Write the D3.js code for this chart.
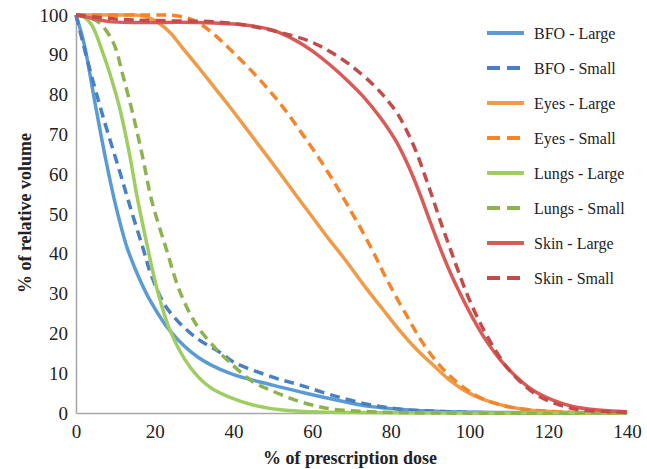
<!DOCTYPE html>
<html lang="en">
    <head>
        <meta charset="utf-8">
        <title>Dose volume histogram</title>
        <script type="text/javascript" src="https://d3js.org/d3.v7.min.js"></script>
        <style type="text/css">
          body { margin: 0; background: #fff; }
          text { font-family: "Liberation Serif", "Times New Roman", serif; fill: #222; }
          .axis path { stroke: #a9a9a9; stroke-width: 1.6; }
        </style>
    </head>
    <body>
        <script type="text/javascript">
        // series: [dose %, relative volume %]
        var bfoLarge = [[0,100],[2,93],[5,77],[7.5,64],[10,52.5],[13,41.5],[16,34],[19,28],[24,20.5],[31,14],[39,10],[50,7],[57,5.3],[65,3.5],[75,1.6],[90,0.5],[110,0.1],[140,0]];
        var bfoSmall = [[0,100],[1,96],[3.6,86],[7,74],[11,61],[14,51],[17,41.5],[19,35],[23,26.5],[30,19.3],[37,15],[40,12.8],[50,9],[57,7],[65,4.5],[74,2.2],[82,1],[95,0.3],[115,0],[140,0]];
        var eyesLarge = [[0,100],[10,100],[15,100],[18,99.5],[21,98],[24,95.5],[27,91.8],[31,87],[35,82],[39,77],[43.4,71.3],[47.6,65.8],[52,60],[56,54.6],[60,49.3],[64,44],[68,39],[74,31],[78,26],[82,21],[86.5,16],[91,11.8],[95,8.2],[99,5.5],[103,3.6],[107,2.3],[112,1.2],[118,0.5],[125,0.2],[140,0]];
        var eyesSmall = [[0,100],[15,100],[22,100],[25.5,99.8],[28.5,99.2],[31.5,97.8],[35,95.2],[39,91.5],[43,87.6],[47,83.4],[50,80],[53,76.3],[56,72.2],[59.5,67.3],[62.8,62.4],[66,57.3],[69,52.2],[72,47],[75.5,40.5],[79,33.5],[84,24.5],[89,16.3],[95,9.3],[102,4.2],[108,2],[115,0.8],[125,0.2],[140,0]];
        var lungsLarge = [[0,100],[2,99.5],[4,97.5],[7,90],[9,84],[11,77],[13.7,64.5],[15.4,55],[18,42.5],[20.5,31.5],[24,20.5],[29,11.5],[34,6.5],[39,4],[45,2],[52,0.8],[60,0.3],[70,0.1],[110,0],[140,0]];
        var lungsSmall = [[0,100],[3,99.5],[6,98],[9.5,93],[12,84.5],[14.6,74.5],[17,64],[19.2,53.5],[23,41],[26.4,30.5],[30.7,22],[35.7,16],[39,12.8],[45,7.8],[50,5.5],[55,3.5],[60,2],[65,1],[75,0.3],[90,0],[140,0]];
        var skinLarge = [[0,100],[4,99.2],[8,98.4],[15,98.1],[26,98.2],[35,98],[43,97.5],[50,96.2],[56,93.5],[60,91],[64.5,87.5],[69,83.5],[73,79.5],[77.5,74],[81.5,68],[84.5,62],[87.4,55],[90,48],[92.5,41.5],[95,35.5],[97.6,30],[101,23.5],[104,18.5],[107.7,13.5],[112,9],[116,5.8],[121,3.3],[126,1.7],[132,0.8],[140,0.3]];
        var skinSmall = [[0,100],[10,99],[20,98.6],[35,98.3],[42,97.6],[47.6,96.6],[53,95.3],[58.6,93.7],[62,92.2],[65.4,90.3],[70,87.2],[75.5,82.5],[78.5,79.3],[81.5,75.5],[84,71],[86.5,65.5],[88.7,59.5],[90.8,53.5],[93,47],[95,41.5],[97,36],[99.3,30],[102,24],[105.5,17.5],[109.4,11.6],[113.5,7.3],[118,4],[123,2],[128,0.8],[134,0.4],[140,0.2]];

        var seriesNames = ["BFO - Large", "BFO - Small", "Eyes - Large", "Eyes - Small",
                           "Lungs - Large", "Lungs - Small", "Skin - Large", "Skin - Small"];
        var seriesData = [bfoLarge, bfoSmall, eyesLarge, eyesSmall, lungsLarge, lungsSmall, skinLarge, skinSmall];
        var xTicks = [0, 20, 40, 60, 80, 100, 120, 140];
        var yTicks = [0, 10, 20, 30, 40, 50, 60, 70, 80, 90, 100];

        var colors = ["#5b9bd5", "#4a7fc1", "#ef9b48", "#f4852a", "#a0cd62", "#8fb250", "#d95b58", "#c24c49"];
        var dashed = [false, true, false, true, false, true, false, true];

        var w = 647;
        var h = 469;
        var margin = {top: 15, right: 20, bottom: 56, left: 76};

        var svg = d3.select("body").append("svg")
                    .attr("width", w)
                    .attr("height", h);

        var x = d3.scaleLinear()
            .domain([0, 140])
            .range([margin.left, w - margin.right]);

        var y = d3.scaleLinear()
            .domain([0, 100])
            .range([h - margin.bottom, margin.top]);

        svg.append("g")
            .attr("class", "axis")
            .attr("transform", "translate(0," + (h - margin.bottom) + ")")
            .call(d3.axisBottom(x).tickValues(xTicks).tickSize(0).tickPadding(11.5));

        svg.append("g")
            .attr("class", "axis")
            .attr("transform", "translate(" + margin.left + ",0)")
            .call(d3.axisLeft(y).tickValues(yTicks).tickSize(0).tickPadding(8));

        svg.selectAll(".axis text")
            .attr("font-family", "Liberation Serif")
            .attr("font-size", "19px")
            .attr("fill", "#222");

        svg.append("text")
            .attr("x", 350)
            .attr("y", 464)
            .attr("text-anchor", "middle")
            .attr("font-size", "18px")
            .attr("font-weight", "bold")
            .text("% of prescription dose");

        svg.append("text")
            .attr("transform", "translate(31,213) rotate(-90)")
            .attr("text-anchor", "middle")
            .attr("font-size", "18px")
            .attr("font-weight", "bold")
            .text("% of relative volume");

        var line = d3.line()
            .x(function(d) { return x(d[0]); })
            .y(function(d) { return y(d[1]); })
            .curve(d3.curveCatmullRom.alpha(0.5));

        svg.selectAll(".series")
          .data(seriesData)
          .enter()
          .append("path")
            .attr("class", "series")
            .attr("fill", "none")
            .attr("stroke", function(d, i) { return colors[i]; })
            .attr("stroke-width", 3.5)
            .attr("stroke-dasharray", function(d, i) { return dashed[i] ? "10,6" : null; })
            .attr("d", line);

        // legend
        var legend = svg.selectAll(".legend")
          .data(seriesNames)
          .enter()
          .append("g")
            .attr("class", "legend")
            .attr("transform", function(d, i) {
              return "translate(487," + (33 + i * 35) + ")";
            });

        legend.append("line")
            .attr("x1", 0)
            .attr("x2", 37)
            .attr("y1", 0)
            .attr("y2", 0)
            .attr("stroke", function(d, i) { return colors[i]; })
            .attr("stroke-width", 4)
            .attr("stroke-dasharray", function(d, i) { return dashed[i] ? "13,7" : null; });

        legend.append("text")
            .attr("x", 47)
            .attr("y", 0)
            .attr("dy", "0.35em")
            .attr("font-size", "16px")
            .text(function(d) { return d; });
        </script>
    </body>
</html>
